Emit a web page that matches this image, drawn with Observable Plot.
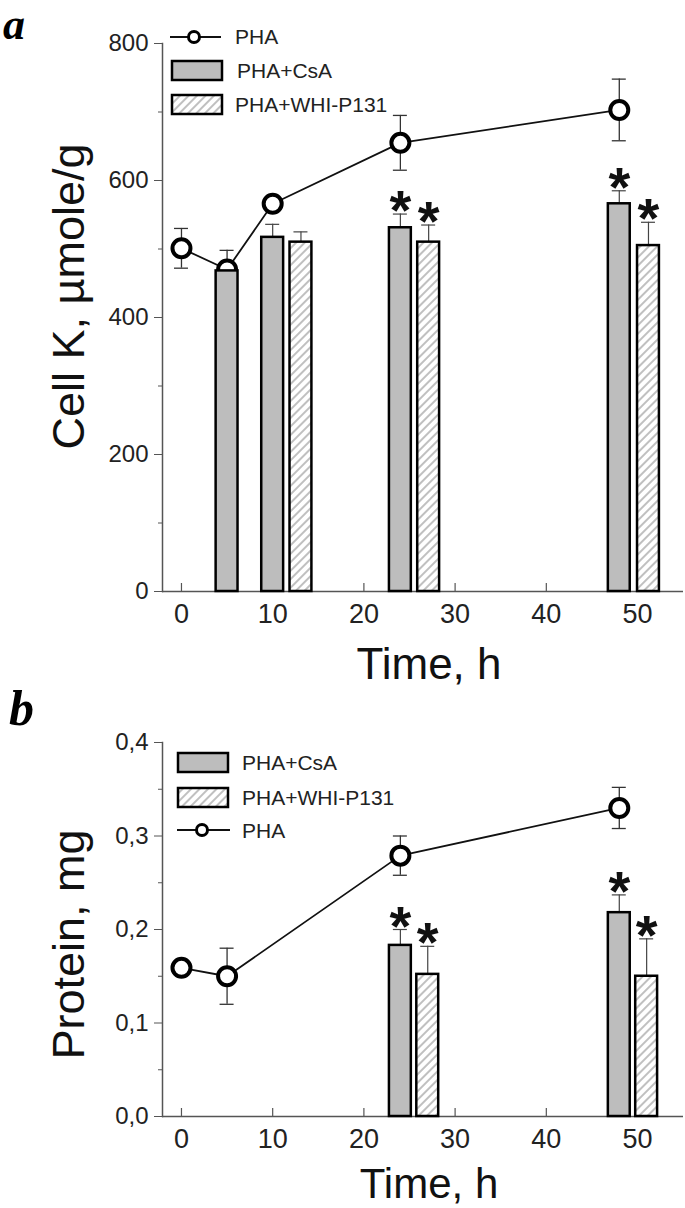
<!DOCTYPE html>
<html><head><meta charset="utf-8">
<script src="https://cdn.jsdelivr.net/npm/d3@7"></script>
<script src="https://cdn.jsdelivr.net/npm/@observablehq/plot@0.6"></script>
<style>
body{margin:0;background:#fff;}
#wrap{position:relative;width:685px;height:1208px;overflow:hidden;font-family:"Liberation Sans",Arial,sans-serif;}
.panel{position:absolute;left:0;}
#overlay{position:absolute;left:0;top:0;pointer-events:none;}
</style></head><body>
<div id="wrap">
<svg width="0" height="0" style="position:absolute">
 <defs>
  <pattern id="hatch" patternUnits="userSpaceOnUse" width="6" height="6" patternTransform="rotate(45)">
   <rect width="6" height="6" fill="#fff"/>
   <line x1="3" y1="0" x2="3" y2="6" stroke="#8c8c8c" stroke-width="1.1"/>
  </pattern>
 </defs>
</svg>
<div id="pa" class="panel" style="top:0"></div>
<div id="pb" class="panel" style="top:690px"></div>
<svg id="overlay" width="685" height="1208" font-family="Liberation Sans, Arial, sans-serif">
 <text x="3" y="39" font-family="Liberation Serif, Times New Roman, serif" font-weight="bold" font-style="italic" font-size="44">a</text>
 <text x="9" y="725" font-family="Liberation Serif, Times New Roman, serif" font-weight="bold" font-style="italic" font-size="50">b</text>
 <!-- legend a -->
 <line x1="170" y1="37" x2="221" y2="37" stroke="#111" stroke-width="1.8"/>
 <circle cx="194" cy="37" r="5.5" fill="#fff" stroke="#000" stroke-width="3"/>
 <text x="235" y="37" dy="0.35em" font-size="21" fill="#222">PHA</text>
 <rect x="172" y="61" width="50" height="19" fill="#bdbdbd" stroke="#000" stroke-width="2.5"/>
 <text x="237" y="71" dy="0.35em" font-size="21" fill="#222">PHA+CsA</text>
 <rect x="172" y="95" width="50" height="19" fill="url(#hatch)" stroke="#000" stroke-width="2.5"/>
 <text x="235" y="105" dy="0.35em" font-size="21" fill="#222">PHA+WHI-P131</text>
 <!-- legend b -->
 <rect x="178" y="753" width="50" height="19" fill="#bdbdbd" stroke="#000" stroke-width="2.5"/>
 <text x="242" y="763" dy="0.35em" font-size="21" fill="#222">PHA+CsA</text>
 <rect x="178" y="788" width="50" height="19" fill="url(#hatch)" stroke="#000" stroke-width="2.5"/>
 <text x="242" y="798" dy="0.35em" font-size="21" fill="#222">PHA+WHI-P131</text>
 <line x1="177" y1="830" x2="230" y2="830" stroke="#111" stroke-width="1.8"/>
 <circle cx="202" cy="830" r="5.5" fill="#fff" stroke="#000" stroke-width="3"/>
 <text x="242" y="831" dy="0.35em" font-size="21" fill="#222">PHA</text>
</svg>
</div>
<script>
// ---------- Panel a: Cell K ----------
const timeA   = [0, 5, 10, 24, 48];
const phaA    = [501, 470, 566, 655, 703];
const phaErrA = [29, 28, 8, 40, 45];
const csaXA   = [5, 10, 24, 48];
const csaA    = [468, 517, 531, 566];
const csaErrA = [0, 19, 20, 19];
const csaSigA = [false, false, true, true];
const whiXA   = [13.1, 27.1, 51.2];
const whiA    = [510, 510, 505];
const whiErrA = [15, 25, 34];
const whiSigA = [false, true, true];
const yTicksA = [0, 200, 400, 600, 800];
const yMinorA = [100, 300, 500, 700];

// ---------- Panel b: Protein ----------
const timeB   = [0, 5, 24, 48];
const phaB    = [0.159, 0.150, 0.279, 0.330];
const phaErrB = [0.004, 0.030, 0.021, 0.022];
const csaXB   = [24, 48];
const csaB    = [0.183, 0.218];
const csaErrB = [0.017, 0.019];
const csaSigB = [true, true];
const whiXB   = [27, 51];
const whiB    = [0.152, 0.150];
const whiErrB = [0.030, 0.040];
const whiSigB = [true, true];
const yTicksB = [0, 0.1, 0.2, 0.3, 0.4];
const yMinorB = [0.05, 0.15, 0.25, 0.35];

const xTicks = [0, 10, 20, 30, 40, 50];
const xDomain = [-2.08, 55.04];

function rows(xs, vs, es, sig) {
  return xs.map((x, i) => ({x, v: vs[i], e: es[i], s: sig ? sig[i] : false}));
}

function panel(o) {
  const W = 685, mL = 162, mR = 2;
  const ux = (xDomain[1] - xDomain[0]) / (W - mL - mR);
  const uy = (o.yDomain[1] - o.yDomain[0]) / (o.height - o.marginTop - o.marginBottom);
  const bw = 2.4;
  const cap = 7 * ux;
  const pha = rows(o.t, o.pha, o.phaErr);
  const csa = rows(o.csaX, o.csa, o.csaErr, o.csaSig);
  const whi = rows(o.whiX, o.whi, o.whiErr, o.whiSig);
  const bars = csa.concat(whi).filter(d => d.e > 0);
  const stars = csa.concat(whi).filter(d => d.s);
  return Plot.plot({
    width: W, height: o.height,
    marginLeft: mL, marginRight: mR, marginTop: o.marginTop, marginBottom: o.marginBottom,
    style: {fontFamily: "Liberation Sans, Arial, sans-serif", background: "transparent", color: "#222", overflow: "visible"},
    x: {domain: xDomain},
    y: {domain: o.yDomain},
    marks: [
      Plot.ruleY([o.yDomain[0]], {stroke: "#555", strokeWidth: 1.5}),
      Plot.frame({anchor: "left", stroke: "#555", strokeWidth: 1.5}),
      Plot.axisY({ticks: o.yTicks, tickSize: 8, tickPadding: 6, fontSize: 24, tickFormat: o.yFmt, label: null, stroke: "#555", fill: "#222"}),
      Plot.ruleY(o.yMinor, {x1: xDomain[0] - 4 * ux, x2: xDomain[0], stroke: "#555"}),
      Plot.axisX({ticks: xTicks, tickSize: 0, tickPadding: 12, fontSize: 27, label: null, fill: "#222"}),
      Plot.ruleX(xTicks, {y1: o.yDomain[0], y2: o.yDomain[0] + 8 * uy, stroke: "#555", strokeWidth: 1.2}),
      Plot.text([o.yLabel], {frameAnchor: "left", textAnchor: "middle", rotate: -90, dx: -93, dy: o.labelDy, fontSize: 45, fill: "#111"}),
      Plot.text(["Time, h"], {frameAnchor: "bottom", textAnchor: "middle", lineAnchor: "top", dy: o.timeDy, dx: 6, fontSize: o.timeSize, fill: "#111"}),
      Plot.line(pha, {x: "x", y: "v", stroke: "#111", strokeWidth: 1.8}),
      Plot.ruleX(pha, {x: "x", y1: d => d.v - d.e, y2: d => d.v + d.e, stroke: "#333", strokeWidth: 1.3}),
      Plot.ruleY(pha, {y: d => d.v + d.e, x1: d => d.x - cap, x2: d => d.x + cap, stroke: "#333", strokeWidth: 1.3}),
      Plot.ruleY(pha, {y: d => d.v - d.e, x1: d => d.x - cap, x2: d => d.x + cap, stroke: "#333", strokeWidth: 1.3}),
      Plot.dot(pha, {x: "x", y: "v", r: 9, fill: "#fff", stroke: "#000", strokeWidth: 4}),
      Plot.ruleX(bars, {x: "x", y1: "v", y2: d => d.v + d.e, stroke: "#444", strokeWidth: 1.2}),
      Plot.ruleY(bars, {y: d => d.v + d.e, x1: d => d.x - cap, x2: d => d.x + cap, stroke: "#444", strokeWidth: 1.2}),
      Plot.rectY(csa, {x1: d => d.x - bw / 2, x2: d => d.x + bw / 2, y1: o.yDomain[0], y2: "v", fill: "#bdbdbd", stroke: "#000", strokeWidth: 2.5}),
      Plot.rectY(whi, {x1: d => d.x - bw / 2, x2: d => d.x + bw / 2, y1: o.yDomain[0], y2: "v", fill: "url(#hatch)", stroke: "#000", strokeWidth: 2.5}),
      Plot.text(stars, {x: "x", y: d => d.v + d.e, text: () => "*", lineAnchor: "bottom", dy: 15, fontSize: 56, fontWeight: "bold", fill: "#111"})
    ]
  });
}

const fmtA = d => String(d);
const fmtB = d => d3.format(".1f")(d).replace(".", ",");

document.getElementById("pa").appendChild(panel({
  height: 690, marginTop: 43, marginBottom: 99, yDomain: [0, 800], yTicks: yTicksA, yMinor: yMinorA, yFmt: fmtA,
  yLabel: "Cell K, µmole/g", labelDy: -21, timeDy: 56, timeSize: 44,
  t: timeA, pha: phaA, phaErr: phaErrA,
  csaX: csaXA, csa: csaA, csaErr: csaErrA, csaSig: csaSigA,
  whiX: whiXA, whi: whiA, whiErr: whiErrA, whiSig: whiSigA
}));
document.getElementById("pb").appendChild(panel({
  height: 518, marginTop: 52, marginBottom: 92, yDomain: [0, 0.4], yTicks: yTicksB, yMinor: yMinorB, yFmt: fmtB,
  yLabel: "Protein, mg", labelDy: 15, timeDy: 52, timeSize: 42,
  t: timeB, pha: phaB, phaErr: phaErrB,
  csaX: csaXB, csa: csaB, csaErr: csaErrB, csaSig: csaSigB,
  whiX: whiXB, whi: whiB, whiErr: whiErrB, whiSig: whiSigB
}));
</script>
</body></html>
